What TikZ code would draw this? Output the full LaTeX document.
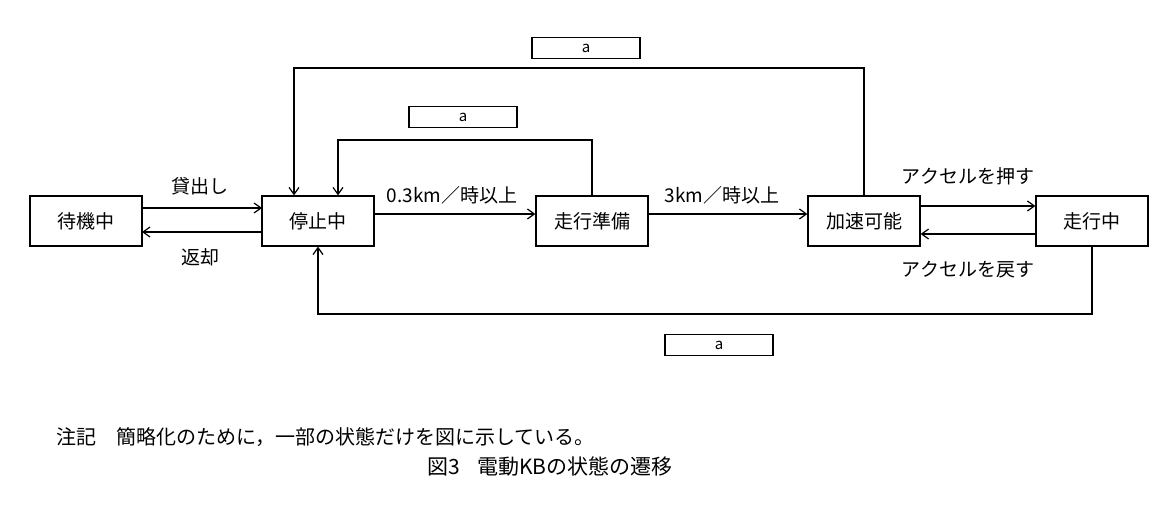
\documentclass[tikz,border=0pt]{standalone}
\usepackage{fontspec}
\setmainfont{Noto Sans CJK JP}
\usetikzlibrary{arrows.meta}
\begin{document}
\begin{tikzpicture}[x=1pt,y=-1pt,font=\fontsize{19}{21}\selectfont,
 st/.style={draw,line width=1.2pt,minimum width=112pt,minimum height=50pt,inner sep=0},
 lb/.style={draw,line width=1.2pt,minimum width=108pt,minimum height=21pt,inner sep=0,font=\fontsize{15}{16}\selectfont},
 ar/.style={line width=1.2pt,-{Straight Barb[length=7pt,width=10pt]}},
 tx/.style={inner sep=1pt}]
\useasboundingbox (0,0) rectangle (1174,518);
\node[st] (w) at (86,221) {待機中};
\node[st] (s) at (318,221) {停止中};
\node[st] (r) at (592,221) {走行準備};
\node[st] (k) at (864,221) {加速可能};
\node[st] (g) at (1092,221) {走行中};
\node[lb] (a1) at (586,48) {a};
\node[lb] (a2) at (463,117) {a};
\node[lb] (a3) at (719,345) {a};
\coordinate (p1) at (142,208); \coordinate (p2) at (262,208);
\draw[ar] (p1) -- (p2);
\coordinate (q1) at (262,232); \coordinate (q2) at (142,232);
\draw[ar] (q1) -- (q2);
\node[tx] (t1) at (200,186) {貸出し};
\node[tx] (t2) at (200,257) {返却};
\draw[ar] (s.east |- 0,214) -- (r.west |- 0,214);
\node[tx] (t3) at (452,195) {0.3km／時以上};
\draw[ar] (r.east |- 0,214) -- (k.west |- 0,214);
\node[tx] (t4) at (722,195) {3km／時以上};
\draw[ar] (k.east |- 0,206) -- (g.west |- 0,206);
\draw[ar] (g.west |- 0,234) -- (k.east |- 0,234);
\node[tx] (t5) at (968,176) {アクセルを押す};
\node[tx] (t6) at (968,270) {アクセルを戻す};
\draw[ar] (k.north) -- (864,68) -- (294,68) -- (s.north -| 294,0);
\draw[ar] (r.north) -- (592,140) -- (338,140) -- (s.north -| 338,0);
\draw[ar] (g.south) -- (1092,314) -- (318,314) -- (s.south);
\node[tx,anchor=west,font=\fontsize{20}{22}\selectfont] (n1) at (55,437) {注記\hspace{1em}簡略化のために，一部の状態だけを図に示している。};
\node[tx,font=\fontsize{21}{23}\selectfont] (n2) at (550,467) {図3\hspace{0.8em}電動KBの状態の遷移};
\end{tikzpicture}
\end{document}
